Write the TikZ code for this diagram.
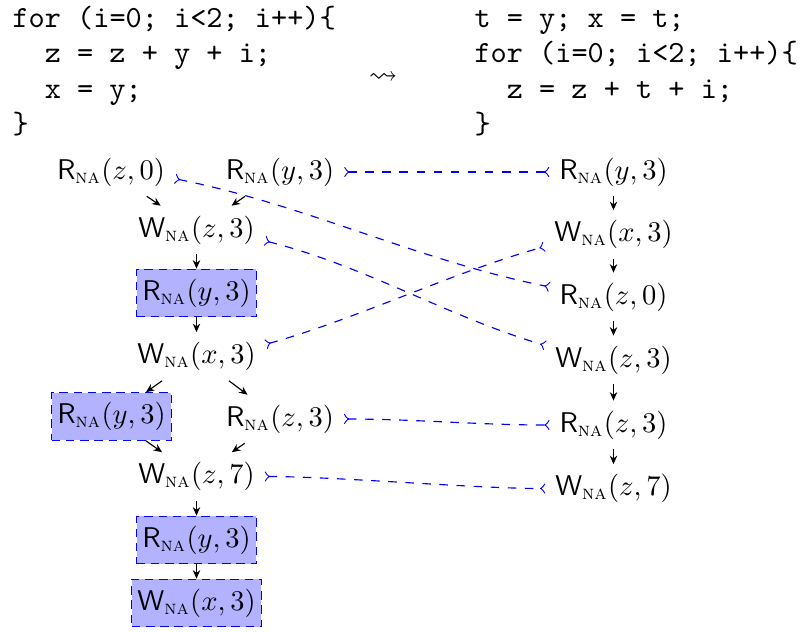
\documentclass[tikz,border=0pt]{standalone}
\usepackage{amsmath,amssymb}
\usetikzlibrary{arrows.meta}
\newcommand{\RNA}[1]{$\mathsf{R}_{\textsc{na}}(#1)$}
\newcommand{\WNA}[1]{$\mathsf{W}_{\textsc{na}}(#1)$}
\begin{document}
\begin{tikzpicture}[x=0.35088pt,y=-0.35088pt,
  ev/.style={inner sep=3.33pt, font=\fontsize{10}{12}\selectfont},
  hl/.style={ev, inner xsep=2pt, draw=blue, densely dashed, fill=blue!30},
  code/.style={anchor=base west, inner sep=0pt, font=\fontsize{10.8}{12.4}\selectfont\ttfamily},
  arr/.style={-{Stealth[length=3pt,width=2.6pt]}},
  link/.style={blue, dashed, >=to, >-<}]
\useasboundingbox (0,0) rectangle (806,631);

% code
\node[code] (L1) at (12,27.3) {for (i=0; i<2; i++)\{};
\node[code] (L2) at (44.3,62.7) {z = z + y + i;};
\node[code] (L3) at (44.3,98) {x = y;};
\node[code] (L4) at (12,133.3) {\}};
\node (lead) at (383,78) {$\leadsto$};
\node[code] (M1) at (474,27.3) {t = y; x = t;};
\node[code] (M2) at (474,62.7) {for (i=0; i<2; i++)\{};
\node[code] (M3) at (506.3,98) {z = z + t + i;};
\node[code] (M4) at (474,133.3) {\}};

% left graph
\node[ev] (Rz0) at (111,172) {\RNA{z,0}};
\node[ev] (Ry3a) at (280,172) {\RNA{y,3}};
\node[ev] (Wz3) at (196.5,230) {\WNA{z,3}};
\node[hl] (Ry3b) at (196.5,293) {\RNA{y,3}};
\node[ev] (Wx3) at (196.5,356.5) {\WNA{x,3}};
\node[hl] (Ry3c) at (111.5,416.5) {\RNA{y,3}};
\node[ev] (Rz3) at (280,419) {\RNA{z,3}};
\node[ev] (Wz7) at (196.5,476.5) {\WNA{z,7}};
\node[hl] (Ry3d) at (196.5,540) {\RNA{y,3}};
\node[hl] (Wx3e) at (196.5,603) {\WNA{x,3}};

% right chain
\node[ev] (S1) at (613.5,172) {\RNA{y,3}};
\node[ev] (S2) at (613.5,234.5) {\WNA{x,3}};
\node[ev] (S3) at (613.5,297) {\RNA{z,0}};
\node[ev] (S4) at (613.5,360) {\WNA{z,3}};
\node[ev] (S5) at (613.5,425) {\RNA{z,3}};
\node[ev] (S6) at (613.5,488.5) {\WNA{z,7}};

% black arrows
\draw[arr] (Rz0) -- (Wz3);
\draw[arr] (Ry3a) -- (Wz3);
\draw[arr] (Wz3) -- (Ry3b);
\draw[arr] (Ry3b) -- (Wx3);
\draw[arr] (Wx3) -- (Ry3c);
\draw[arr] (Wx3) -- (Rz3);
\draw[arr] (Ry3c) -- (Wz7);
\draw[arr] (Rz3) -- (Wz7);
\draw[arr] (Wz7) -- (Ry3d);
\draw[arr] (Ry3d) -- (Wx3e);
\draw[arr] (S1) -- (S2);
\draw[arr] (S2) -- (S3);
\draw[arr] (S3) -- (S4);
\draw[arr] (S4) -- (S5);
\draw[arr] (S5) -- (S6);

% blue links
\draw[link] (Ry3a.east) -- (S1.west);
\draw[link] (Rz0.-6) .. controls +(130,26) and +(-130,-26) .. (S3.171);
\draw[link] (Wz3.-9) .. controls +(100,25) and +(-100,-30) .. (S4.168);
\draw[link] (Wx3.10) .. controls +(90,-25) and +(-90,25) .. (S2.-170);
\draw[link] (Rz3.east) .. controls +(70,0) and +(-70,0) .. (S5.west);
\draw[link] (Wz7.east) .. controls +(70,0) and +(-70,0) .. (S6.west);
\end{tikzpicture}
\end{document}
